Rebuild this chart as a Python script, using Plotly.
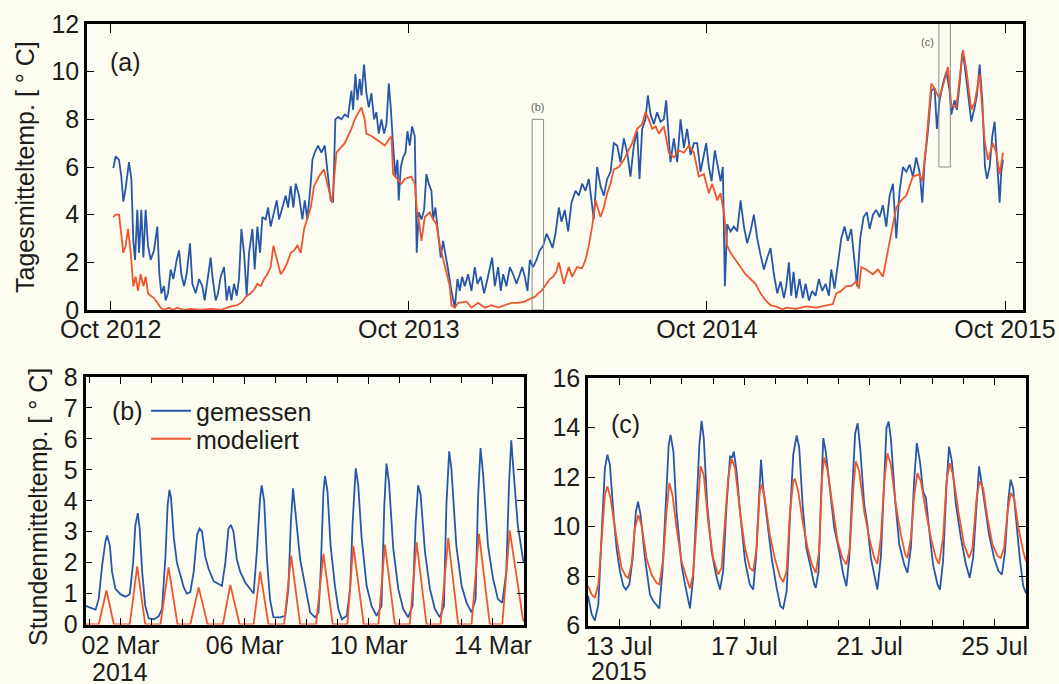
import pandas as pd
import plotly.graph_objects as go

# ---------------- data ----------------
# Panel (a): daily means, day offset since 2012-10-01
A_BASE = "2012-10-01"
A_BLUE_DAY = [3.2, 6.1, 10.2, 13.0, 15.5, 18.3, 22.4, 25.3, 27.7, 29.8, 32.6, 34.7, 37.5, 40.0, 42.8, 45.7, 49.0, 53.0, 57.1, 59.6,
              62.0, 65.3, 67.3, 70.2, 73.4, 76.7, 80.8, 83.7, 86.5, 89.8, 93.0, 97.1, 100.0, 104.1, 108.2, 112.2, 115.1, 119.2, 122.4, 124.9,
              128.6, 131.4, 134.7, 138.8, 142.0, 144.9, 147.8, 151.0, 154.3, 157.1, 160.0, 163.3, 166.5, 169.4, 173.5, 176.3, 179.6, 182.9, 185.7, 189.8,
              192.7, 195.9, 200.0, 203.3, 206.1, 210.2, 214.3, 217.2, 220.4, 223.7, 226.6, 230.6, 234.7, 237.6, 240.8, 244.9, 247.0, 249.8, 253.9, 258.0,
              262.1, 266.1, 269.4, 272.3, 275.1, 278.4, 282.5, 286.6, 290.6, 294.7, 296.8, 299.6, 302.1, 304.9, 307.0, 310.2, 313.1, 316.0, 319.2, 322.5,
              325.3, 328.2, 331.5, 334.7, 337.6, 340.5, 342.9, 345.8, 348.6, 351.1, 352.7, 355.2, 358.0, 360.9, 363.3, 366.2, 369.0, 372.3, 374.7, 377.2,
              380.5, 383.7, 386.6, 389.4, 392.7, 394.8, 397.6, 400.9, 404.1, 407.0, 409.9, 413.1, 417.2, 421.3, 424.6, 427.4, 430.3, 433.5, 437.6, 441.7,
              445.8, 449.1, 453.1, 457.2, 461.3, 464.2, 467.0, 470.3, 474.4, 477.6, 480.5, 484.6, 488.7, 492.7, 496.8, 500.9, 503.8, 507.0, 510.3, 513.2,
              517.2, 521.3, 525.4, 529.5, 533.6, 537.7, 541.0, 544.6, 548.7, 552.0, 556.0, 560.1, 564.2, 569.1, 573.2, 577.2, 581.3, 585.4, 588.7, 591.5,
              595.6, 599.7, 603.8, 607.9, 612.0, 616.0, 620.1, 624.2, 628.3, 632.4, 636.4, 640.5, 644.6, 647.5, 650.7, 654.8, 657.7, 661.0, 665.0, 669.1,
              673.2, 677.3, 680.1, 683.4, 685.4, 689.5, 693.6, 697.7, 701.8, 705.8, 710.0, 714.0, 718.1, 722.2, 726.3, 729.1, 732.4, 735.7, 739.7, 743.8,
              746.7, 749.5, 752.0, 754.8, 758.9, 763.0, 767.1, 771.2, 775.3, 779.3, 783.4, 787.5, 791.6, 795.7, 799.8, 803.9, 807.9, 812.0, 816.1, 820.2,
              824.3, 827.1, 830.4, 833.2, 836.1, 839.3, 843.4, 847.5, 850.8, 854.9, 858.9, 863.0, 867.1, 871.2, 875.3, 879.4, 882.2, 886.3, 890.4, 894.5,
              898.5, 902.6, 906.7, 910.8, 913.7, 917.7, 921.8, 925.9, 929.2, 933.3, 937.3, 941.4, 945.5, 949.6, 953.7, 957.8, 961.8, 965.9, 970.0, 974.1,
              978.2, 982.2, 986.3, 990.4, 993.7, 996.5, 1000.6, 1004.7, 1008.8, 1011.6, 1014.9, 1019.0, 1023.1, 1027.2, 1029.2, 1033.3, 1036.1, 1039.4, 1042.7, 1045.5,
              1049.6, 1053.7, 1057.8, 1060.6, 1063.9, 1067.2, 1070.5, 1072.9, 1076.2, 1079.4, 1082.3, 1085.1, 1088.4, 1090.4, 1092.5]
A_BLUE_VAL = [5.95, 6.45, 6.3, 5.6, 4.55, 5.1, 6.2, 5.5, 2.9, 2.1, 4.2, 2.4, 4.2, 2.2, 4.2, 2.7, 2.1, 2.5, 3.5, 1.5,
              0.7, 1.0, 0.4, 0.7, 1.7, 1.3, 2.1, 2.5, 1.5, 1.0, 1.5, 2.8, 1.1, 0.7, 1.3, 1.0, 0.4, 1.5, 2.2, 1.3,
              0.4, 0.7, 1.4, 1.8, 0.4, 1.0, 0.4, 1.1, 0.6, 1.3, 3.4, 2.4, 0.6, 2.4, 3.4, 1.7, 3.5, 2.4, 3.9, 3.8,
              4.3, 3.5, 4.1, 4.6, 3.8, 4.3, 4.8, 4.3, 5.2, 4.3, 5.3, 4.8, 3.8, 4.6, 3.8, 5.3, 6.3, 6.6, 6.9, 6.6,
              6.9, 5.6, 4.6, 4.55, 8.0, 8.1, 8.0, 8.2, 8.1, 9.2, 8.4, 9.9, 8.8, 9.7, 9.0, 10.3, 9.1, 8.5, 9.1, 8.0,
              8.3, 7.4, 8.0, 7.4, 7.8, 9.5, 8.5, 6.9, 5.6, 6.3, 4.6, 6.0, 6.4, 6.6, 7.5, 6.9, 7.7, 7.3, 2.4, 4.1,
              3.8, 4.2, 5.7, 5.3, 5.0, 3.8, 4.3, 3.2, 2.2, 2.9, 2.4, 1.7, 0.8, 0.1, 1.3, 0.8, 1.4, 1.0, 1.5, 0.8,
              1.8, 1.1, 1.4, 0.7, 1.3, 1.8, 2.2, 1.0, 1.8, 0.8, 1.5, 1.0, 1.8, 1.5, 1.1, 1.5, 1.8, 1.4, 0.8, 2.1,
              1.8, 2.1, 2.5, 2.7, 3.2, 2.9, 2.6, 3.2, 4.3, 3.7, 4.2, 3.3, 4.5, 5.0, 4.8, 5.3, 5.0, 5.5, 4.6, 3.8,
              6.0, 5.2, 4.8, 5.5, 5.8, 7.0, 6.9, 6.2, 7.2, 6.6, 5.6, 6.9, 7.5, 5.5, 7.6, 8.0, 9.0, 8.2, 7.8, 8.3,
              7.9, 8.0, 8.8, 7.4, 6.2, 7.2, 6.2, 8.0, 6.8, 7.6, 6.5, 7.0, 7.0, 5.8, 6.5, 7.0, 6.0, 5.4, 6.7, 6.0,
              5.4, 6.0, 1.0, 3.6, 3.3, 3.5, 3.3, 4.6, 3.5, 2.8, 3.3, 4.0, 3.0, 2.3, 1.7, 2.2, 2.6, 1.5, 0.7, 1.2,
              0.5, 1.0, 2.0, 0.6, 1.6, 0.5, 1.3, 0.5, 1.1, 0.4, 0.8, 0.6, 1.3, 0.8, 1.1, 0.6, 1.7, 0.9, 2.0, 3.0,
              3.5, 2.9, 3.4, 2.0, 1.0, 3.0, 3.9, 4.1, 3.4, 4.0, 4.2, 3.9, 4.4, 3.5, 4.8, 5.3, 3.0, 5.0, 6.0, 5.8,
              6.1, 5.6, 6.4, 5.8, 4.5, 6.2, 7.5, 9.2, 9.3, 7.6, 8.8, 9.5, 10.0, 9.2, 8.2, 8.8, 8.4, 9.5, 10.8, 10.3,
              9.2, 7.9, 8.5, 9.0, 10.3, 8.8, 6.0, 5.5, 6.0, 7.3, 7.9, 6.2, 4.5, 5.8, 6.3]

A_RED_DAY = [3.2, 6.1, 10.2, 13.0, 15.5, 18.3, 21.2, 24.5, 27.7, 30.6, 33.4, 36.7, 40.0, 42.8, 45.7, 49.0, 53.0, 57.1, 61.2, 65.3,
             71.4, 75.5, 81.6, 89.8, 98.0, 110.2, 122.4, 134.7, 147.0, 155.1, 161.2, 165.3, 171.4, 175.5, 179.6, 183.7, 187.8, 191.8, 195.9, 199.2,
             203.3, 208.2, 212.3, 216.3, 220.4, 224.5, 228.6, 232.7, 236.8, 240.8, 244.9, 249.0, 255.0, 261.0, 267.0, 271.0, 276.4, 286.6, 294.7, 298.8,
             307.0, 311.0, 313.0, 319.2, 327.4, 335.6, 339.6, 343.7, 345.8, 348.6, 356.0, 360.0, 368.2, 372.3, 375.2, 378.4, 380.5, 384.6, 390.7, 394.8,
             398.8, 403.0, 407.0, 411.0, 415.2, 417.2, 421.3, 425.4, 435.6, 441.7, 449.9, 458.0, 466.2, 474.4, 482.5, 490.7, 498.9, 507.0, 515.2, 519.3,
             523.4, 527.4, 531.5, 537.7, 541.7, 545.8, 548.7, 554.8, 560.9, 565.0, 571.1, 577.2, 581.3, 585.4, 589.5, 593.6, 599.7, 603.8, 607.9, 612.0,
             616.0, 622.2, 628.3, 632.4, 638.5, 644.6, 650.7, 654.8, 658.9, 663.0, 667.1, 671.2, 677.3, 683.4, 689.5, 695.6, 701.8, 707.9, 714.0, 720.1,
             726.3, 732.4, 736.5, 742.6, 746.7, 750.8, 754.8, 758.9, 765.0, 771.2, 777.3, 783.4, 789.5, 795.7, 801.8, 807.9, 814.0, 822.2, 827.1, 839.3,
             851.6, 863.8, 876.1, 884.3, 888.3, 894.5, 900.6, 906.7, 912.8, 916.1, 919.0, 925.1, 933.3, 939.4, 945.5, 949.6, 955.7, 961.8, 968.0, 974.1,
             982.2, 990.4, 993.7, 998.6, 1004.7, 1008.8, 1014.1, 1019.0, 1025.1, 1029.2, 1035.3, 1039.4, 1043.5, 1047.6, 1053.7, 1057.8, 1063.9, 1070.0, 1074.1, 1080.2,
             1084.3, 1088.4, 1092.5]
A_RED_VAL = [3.9, 4.0, 4.0, 3.1, 2.4, 2.7, 3.4, 2.4, 1.0, 1.4, 0.8, 1.5, 1.0, 1.4, 0.7, 0.6, 0.5, 0.3, 0.1, 0.0,
             0.1, 0.0, 0.1, 0.0, 0.05, 0.0, 0.05, 0.0, 0.15, 0.2, 0.35, 0.55, 0.7, 0.85, 1.1, 1.0, 1.3, 1.5, 1.8, 2.7,
             2.1, 1.5, 1.7, 2.0, 2.4, 2.5, 2.7, 2.4, 3.4, 3.9, 4.3, 5.2, 5.6, 5.9, 5.0, 4.5, 6.6, 7.0, 7.6, 8.0,
             8.5, 8.0, 7.4, 7.3, 7.1, 6.9, 7.1, 7.3, 5.7, 5.6, 5.3, 5.5, 5.6, 5.3, 4.1, 3.5, 2.9, 3.9, 4.1, 3.8,
             3.6, 2.7, 2.1, 1.5, 1.0, 0.2, 0.1, 0.3, 0.35, 0.1, 0.3, 0.1, 0.2, 0.1, 0.2, 0.3, 0.3, 0.35, 0.5, 0.55,
             0.7, 0.8, 1.0, 1.3, 1.4, 1.6, 2.0, 1.1, 1.8, 1.4, 1.8, 1.75, 2.1, 2.7, 3.5, 4.6, 3.9, 4.3, 4.9, 5.3,
             5.9, 6.0, 6.3, 6.6, 7.0, 7.6, 7.8, 8.3, 8.0, 7.6, 7.7, 7.4, 7.7, 6.6, 6.4, 6.7, 6.6, 6.9, 6.6, 5.6,
             5.7, 4.9, 5.3, 4.6, 4.9, 4.1, 2.7, 2.4, 2.1, 1.8, 1.5, 1.3, 1.1, 0.7, 0.4, 0.2, 0.15, 0.03, 0.1, 0.05,
             0.15, 0.1, 0.2, 0.25, 0.7, 0.8, 1.0, 1.0, 1.2, 0.9, 1.8, 1.7, 1.5, 1.7, 1.4, 2.1, 3.2, 4.3, 4.6, 4.8,
             5.6, 5.7, 5.4, 7.0, 9.5, 9.3, 8.9, 9.4, 10.2, 8.6, 8.5, 9.7, 10.9, 10.1, 8.4, 8.7, 9.9, 7.1, 6.3, 7.0,
             6.6, 5.7, 6.6]

A_TICKS = ["2012-10-01", "2013-10-01", "2014-10-01", "2015-10-01"]
A_TICKTEXT = ["Oct 2012", "Oct 2013", "Oct 2014", "Oct 2015"]

# Panel (b): hourly, time in days since 2014-03-02 00:00
B_BASE = "2014-03-02"
B_BLUE_T = [-1.125, -0.965, -0.80, -0.70, -0.59, -0.48, -0.43, -0.34, -0.27, -0.16, 0.0, 0.16, 0.30, 0.41, 0.48, 0.56, 0.62, 0.70, 0.80, 0.91,
            1.07, 1.23, 1.34, 1.45, 1.52, 1.58, 1.63, 1.72, 1.82, 1.93, 2.04, 2.14, 2.25, 2.36, 2.47, 2.55, 2.63, 2.73, 2.84, 3.0,
            3.16, 3.27, 3.38, 3.48, 3.56, 3.64, 3.75, 3.86, 4.02, 4.18, 4.29, 4.39, 4.50, 4.55, 4.63, 4.72, 4.82, 4.93, 5.14, 5.31,
            5.41, 5.49, 5.56, 5.66, 5.79, 5.95, 6.11, 6.27, 6.38, 6.45, 6.54, 6.59, 6.67, 6.77, 6.91, 7.02, 7.13, 7.29, 7.40, 7.48,
            7.58, 7.66, 7.77, 7.93, 8.09, 8.25, 8.41, 8.50, 8.57, 8.65, 8.79, 8.95, 9.11, 9.27, 9.41, 9.51, 9.59, 9.67, 9.81, 9.97,
            10.13, 10.29, 10.42, 10.50, 10.59, 10.66, 10.82, 10.99, 11.15, 11.31, 11.44, 11.52, 11.60, 11.68, 11.84, 12.0, 12.16, 12.30, 12.43, 12.52,
            12.59, 12.66, 12.80, 12.97, 13.0]
B_BLUE_VAL = [0.6, 0.55, 0.48, 0.82, 1.9, 2.7, 2.88, 2.55, 1.7, 1.15, 0.98, 0.9, 0.98, 2.0, 3.2, 3.6, 3.1, 1.7, 0.6, 0.2,
              0.17, 0.26, 0.5, 2.2, 3.85, 4.35, 4.1, 2.8, 2.0, 1.6, 1.2, 1.0, 1.05, 1.7, 2.9, 3.1, 3.0, 2.2, 1.8, 1.4,
              1.3, 1.25, 2.0, 3.1, 3.22, 3.0, 2.1, 1.7, 1.36, 1.15, 1.0, 2.3, 4.1, 4.5, 4.0, 2.1, 0.8, 0.23, 0.23, 0.28,
              1.15, 3.3, 4.4, 3.4, 2.1, 1.25, 0.39, 0.23, 0.39, 1.7, 4.3, 4.8, 4.3, 2.55, 1.25, 0.5, 0.17, 0.28, 1.15, 3.3,
              5.05, 4.5, 2.8, 1.25, 0.6, 0.28, 0.6, 3.85, 5.2, 4.6, 2.45, 1.15, 0.5, 0.23, 0.6, 3.3, 4.5, 4.2, 2.35, 1.15,
              0.5, 0.23, 0.6, 3.85, 5.6, 5.05, 2.55, 1.25, 0.7, 0.39, 0.82, 4.1, 5.7, 4.9, 2.55, 1.5, 0.82, 0.7, 1.7, 4.6,
              5.95, 5.0, 3.2, 2.1, 2.0]
B_RED_T = [-1.125, -0.70, -0.45, -0.21, 0.30, 0.54, 0.80, 1.29, 1.55, 1.84, 2.25, 2.52, 2.81, 3.30, 3.54, 3.84, 4.29, 4.50, 4.77, 5.27,
           5.50, 5.79, 6.30, 6.54, 6.84, 7.31, 7.50, 7.84, 8.31, 8.52, 8.84, 9.32, 9.54, 9.86, 10.31, 10.56, 10.88, 11.31, 11.55, 11.90,
           12.30, 12.54, 12.97, 13.0]
B_RED_VAL = [0.0, 0.0, 1.1, 0.0, 0.0, 1.88, 0.0, 0.0, 1.85, 0.0, 0.0, 1.2, 0.0, 0.0, 1.28, 0.0, 0.0, 1.71, 0.0, 0.0,
             2.23, 0.0, 0.0, 2.28, 0.0, 0.0, 2.55, 0.0, 0.0, 2.58, 0.0, 0.0, 2.66, 0.0, 0.0, 2.79, 0.0, 0.0, 2.93, 0.0,
             0.0, 3.04, 0.15, 0.1]

# Panel (c): hourly, time in days since 2015-07-13 00:00
C_BASE = "2015-07-13"
C_BLUE_T = [-1.0, -0.88, -0.78, -0.67, -0.56, -0.46, -0.38, -0.30, -0.19, -0.085, 0.02, 0.13, 0.21, 0.32, 0.43, 0.53, 0.60, 0.68, 0.82, 0.98,
            1.09, 1.19, 1.28, 1.38, 1.49, 1.58, 1.64, 1.73, 1.83, 1.99, 2.10, 2.20, 2.26, 2.36, 2.47, 2.56, 2.63, 2.70, 2.81, 2.95,
            3.09, 3.22, 3.32, 3.43, 3.54, 3.61, 3.66, 3.75, 3.86, 4.02, 4.17, 4.28, 4.37, 4.47, 4.53, 4.60, 4.71, 4.87, 5.03, 5.15,
            5.24, 5.35, 5.45, 5.56, 5.67, 5.75, 5.86, 5.98, 6.12, 6.23, 6.28, 6.37, 6.44, 6.52, 6.60, 6.71, 6.87, 7.03, 7.16, 7.26,
            7.35, 7.46, 7.54, 7.62, 7.70, 7.83, 7.93, 8.04, 8.18, 8.25, 8.36, 8.47, 8.54, 8.61, 8.68, 8.82, 8.95, 9.11, 9.21, 9.32,
            9.43, 9.51, 9.61, 9.71, 9.80, 9.91, 10.03, 10.17, 10.25, 10.35, 10.46, 10.54, 10.63, 10.76, 10.92, 11.08, 11.20, 11.31, 11.42, 11.50,
            11.59, 11.69, 11.82, 11.98, 12.12, 12.23, 12.33, 12.44, 12.51, 12.59, 12.69, 12.80, 12.91, 13.0]
C_BLUE_VAL = [7.2, 6.45, 6.2, 6.85, 9.8, 12.36, 12.9, 12.5, 10.6, 9.1, 8.2, 7.59, 7.45, 7.66, 8.73, 10.6, 11.0, 10.48, 8.73, 7.25,
              6.98, 6.85, 6.69, 8.2, 10.88, 13.3, 13.7, 13.03, 10.6, 8.46, 7.66, 6.98, 6.69, 7.93, 10.88, 13.3, 14.27, 13.57, 10.88, 9.0,
              8.06, 7.45, 8.2, 10.88, 12.83, 12.8, 13.03, 12.23, 10.6, 8.6, 7.66, 7.45, 8.73, 11.15, 12.7, 11.55, 10.34, 8.73, 7.52, 6.78,
              6.69, 7.39, 10.21, 12.9, 13.68, 13.2, 10.88, 9.13, 8.33, 7.66, 7.52, 8.2, 10.88, 13.57, 13.03, 11.69, 9.94, 9.0, 8.06, 7.59,
              8.73, 11.82, 13.77, 14.17, 13.17, 10.88, 10.07, 8.73, 7.79, 7.45, 8.73, 12.23, 13.97, 14.24, 13.57, 11.02, 9.27, 8.46, 8.13, 9.13,
              11.96, 13.37, 12.63, 11.42, 11.15, 9.81, 8.46, 7.66, 7.45, 8.6, 11.69, 13.23, 12.63, 10.88, 9.54, 8.46, 7.93, 8.73, 10.88, 12.43,
              11.69, 10.88, 9.67, 8.73, 8.2, 8.06, 9.0, 11.15, 11.89, 11.55, 10.21, 8.73, 7.6, 7.3]
C_RED_T = [-1.0, -0.88, -0.78, -0.67, -0.56, -0.46, -0.38, -0.28, -0.14, -0.03, 0.07, 0.21, 0.29, 0.39, 0.50, 0.61, 0.71, 0.87, 1.03, 1.19,
           1.28, 1.41, 1.51, 1.60, 1.70, 1.83, 1.99, 2.15, 2.26, 2.36, 2.47, 2.56, 2.60, 2.70, 2.84, 3.00, 3.16, 3.27, 3.38, 3.48,
           3.59, 3.70, 3.86, 4.02, 4.17, 4.28, 4.39, 4.49, 4.55, 4.65, 4.81, 4.97, 5.13, 5.24, 5.35, 5.45, 5.56, 5.61, 5.72, 5.86,
           6.02, 6.16, 6.28, 6.39, 6.48, 6.55, 6.66, 6.82, 6.98, 7.13, 7.26, 7.37, 7.48, 7.56, 7.67, 7.83, 7.99, 8.15, 8.25, 8.36,
           8.47, 8.57, 8.68, 8.84, 9.00, 9.14, 9.21, 9.32, 9.43, 9.53, 9.64, 9.80, 9.96, 10.12, 10.22, 10.35, 10.46, 10.56, 10.67, 10.84,
           11.02, 11.18, 11.29, 11.42, 11.52, 11.63, 11.77, 11.93, 12.09, 12.19, 12.30, 12.41, 12.51, 12.62, 12.76, 12.91, 13.0]
C_RED_VAL = [7.6, 7.25, 7.12, 7.66, 9.54, 11.28, 11.62, 11.15, 9.94, 9.0, 8.33, 7.99, 7.93, 8.46, 9.94, 10.45, 10.07, 8.73, 8.06, 7.72,
             7.66, 8.73, 10.6, 11.76, 11.28, 9.94, 8.6, 7.93, 7.5, 8.06, 10.21, 11.98, 12.43, 12.09, 10.21, 8.73, 8.06, 8.33, 10.07, 11.96,
             12.74, 12.36, 10.6, 9.13, 8.33, 8.2, 9.13, 11.42, 11.7, 11.15, 9.67, 8.73, 7.99, 7.76, 8.2, 10.48, 11.82, 11.93, 11.42, 10.21,
             9.13, 8.46, 8.13, 9.0, 11.96, 12.79, 12.23, 10.88, 9.4, 8.73, 8.46, 9.13, 11.55, 12.63, 12.23, 10.6, 9.54, 8.73, 8.49, 9.54,
             11.82, 12.96, 12.5, 10.88, 9.67, 8.87, 8.73, 9.54, 11.28, 12.16, 11.82, 10.6, 9.54, 8.73, 8.49, 9.54, 11.82, 12.56, 12.09, 10.6,
             9.27, 8.73, 9.13, 11.15, 11.82, 11.55, 10.34, 9.27, 8.8, 8.73, 9.13, 10.6, 11.35, 11.15, 9.94, 9.0, 8.6]

SERIES_NAMES = ["gemessen", "modeliert"]
BLUE = "#2757a8"
RED = "#ee5630"
BG = "#fcfcf0"
TXT = "#1c1c1c"


def to_dates(base, offsets):
    return pd.Timestamp(base) + pd.to_timedelta(offsets, unit="D")


fig = go.Figure()

# panel (a)
fig.add_trace(go.Scatter(x=to_dates(A_BASE, A_BLUE_DAY), y=A_BLUE_VAL, mode="lines",
                         line=dict(color=BLUE, width=1.8), xaxis="x", yaxis="y", showlegend=False))
fig.add_trace(go.Scatter(x=to_dates(A_BASE, A_RED_DAY), y=A_RED_VAL, mode="lines",
                         line=dict(color=RED, width=1.8), xaxis="x", yaxis="y", showlegend=False))
# panel (b)
fig.add_trace(go.Scatter(x=to_dates(B_BASE, B_BLUE_T), y=B_BLUE_VAL, mode="lines", name=SERIES_NAMES[0],
                         line=dict(color=BLUE, width=1.8), xaxis="x2", yaxis="y2", legend="legend"))
fig.add_trace(go.Scatter(x=to_dates(B_BASE, B_RED_T), y=B_RED_VAL, mode="lines", name=SERIES_NAMES[1],
                         line=dict(color=RED, width=1.8), xaxis="x2", yaxis="y2", legend="legend2"))
# panel (c)
fig.add_trace(go.Scatter(x=to_dates(C_BASE, C_BLUE_T), y=C_BLUE_VAL, mode="lines",
                         line=dict(color=BLUE, width=1.8), xaxis="x3", yaxis="y3", showlegend=False))
fig.add_trace(go.Scatter(x=to_dates(C_BASE, C_RED_T), y=C_RED_VAL, mode="lines",
                         line=dict(color=RED, width=1.8), xaxis="x3", yaxis="y3", showlegend=False))

W, H = 1059, 684
FONT = "Liberation Sans, Arial, sans-serif"
axis_common = dict(showline=True, linecolor="black", linewidth=2.5, mirror="ticks", ticks="inside",
                   tickcolor="black", tickwidth=1.3, showgrid=False, zeroline=False, automargin=False,
                   tickfont=dict(family=FONT, size=25, color=TXT))

DAY_MS = 86400000
fig.update_layout(
    width=W, height=H, margin=dict(l=0, r=0, t=0, b=0, pad=0), autosize=False,
    paper_bgcolor=BG, plot_bgcolor=BG,
    font=dict(family=FONT, color=TXT),
    xaxis=dict(**axis_common, domain=[87 / W, 1023 / W], anchor="y", type="date",
               range=["2012-09-02", "2015-10-23"], tickmode="array", tickvals=A_TICKS,
               ticktext=A_TICKTEXT, ticklen=9, ticklabelstandoff=-5),
    yaxis=dict(**axis_common, domain=[1 - 310 / H, 1 - 24 / H], anchor="x",
               range=[0, 12], dtick=2, ticklen=7),
    xaxis2=dict(**axis_common, domain=[85.5 / W, 524 / W], anchor="y2", type="date",
                range=["2014-02-28 21:00", "2014-03-15 00:00"], tickmode="linear",
                tick0="2014-03-02", dtick=4 * DAY_MS, tickformat="%d %b", ticklen=7,
                ticklabelstandoff=-3,
                minor=dict(ticks="inside", tickmode="linear", tick0="2014-03-02", dtick=DAY_MS,
                           ticklen=6, tickcolor="black", tickwidth=1.2)),
    yaxis2=dict(**axis_common, domain=[1 - 624.5 / H, 1 - 377 / H], anchor="x2",
                range=[0, 8], dtick=1, ticklen=7),
    xaxis3=dict(**axis_common, domain=[588 / W, 1026 / W], anchor="y3", type="date",
                range=["2015-07-12 00:00", "2015-07-26 00:00"], tickmode="linear",
                tick0="2015-07-13", dtick=4 * DAY_MS, tickformat="%d %b", ticklen=7,
                ticklabelstandoff=-3,
                minor=dict(ticks="inside", tickmode="linear", tick0="2015-07-13", dtick=DAY_MS,
                           ticklen=6, tickcolor="black", tickwidth=1.2)),
    yaxis3=dict(**axis_common, domain=[1 - 625.5 / H, 1 - 378 / H], anchor="x3",
                range=[6, 16], dtick=2, ticklen=7),
    legend=dict(x=146 / W, y=1 - 411 / H, xanchor="left", yanchor="middle", bgcolor="rgba(0,0,0,0)",
                font=dict(family=FONT, size=25, color=TXT), itemwidth=40, borderwidth=0),
    legend2=dict(x=146 / W, y=1 - 439 / H, xanchor="left", yanchor="middle", bgcolor="rgba(0,0,0,0)",
                 font=dict(family=FONT, size=25, color=TXT), itemwidth=40, borderwidth=0),
)

# zoom boxes in panel (a)
fig.add_shape(type="rect", xref="x", yref="y", x0="2014-03-01", x1="2014-03-15", y0=0, y1=8,
              line=dict(color="#8a8a8a", width=1), fillcolor="rgba(0,0,0,0)")
fig.add_shape(type="rect", xref="x", yref="y", x0="2015-07-12", x1="2015-07-26", y0=6, y1=16,
              line=dict(color="#8a8a8a", width=1), fillcolor="rgba(0,0,0,0)")

ann = [
    dict(text="(a)", x=108 / W, y=1 - 62 / H, xref="paper", yref="paper", xanchor="left", yanchor="middle",
         font=dict(size=25)),
    dict(text="(b)", x=110 / W, y=1 - 411 / H, xref="paper", yref="paper", xanchor="left", yanchor="middle",
         font=dict(size=25)),
    dict(text="(c)", x=609 / W, y=1 - 424 / H, xref="paper", yref="paper", xanchor="left", yanchor="middle",
         font=dict(size=25)),
    dict(text="(b)", x="2014-03-08", y=8.5, xref="x", yref="y", xanchor="center", yanchor="middle",
         font=dict(size=11, color="#666666")),
    dict(text="(c)", x="2015-06-28", y=11.25, xref="x", yref="y", xanchor="center", yanchor="middle",
         font=dict(size=11, color="#666666")),
    dict(text="Tagesmitteltemp. [ ° C]", x=25 / W, y=1 - 167 / H, xref="paper", yref="paper",
         textangle=-90, xanchor="center", yanchor="middle", font=dict(size=25)),
    dict(text="Stundenmitteltemp. [ ° C]", x=38 / W, y=1 - 507 / H, xref="paper", yref="paper",
         textangle=-90, xanchor="center", yanchor="middle", font=dict(size=25)),
    dict(text="2014", x="2014-03-02", y=1 - 672 / H, xref="x2", yref="paper", xanchor="center",
         yanchor="middle", font=dict(size=25)),
    dict(text="2015", x="2015-07-13", y=1 - 671 / H, xref="x3", yref="paper", xanchor="center",
         yanchor="middle", font=dict(size=25)),
]
for a in ann:
    a["showarrow"] = False
    a.setdefault("font", {})
    a["font"].setdefault("family", FONT)
    a["font"].setdefault("color", TXT)
    fig.add_annotation(**a)

fig.write_html("out.html", config={"displayModeBar": False},
               post_script="document.body.style.margin='0px';")
